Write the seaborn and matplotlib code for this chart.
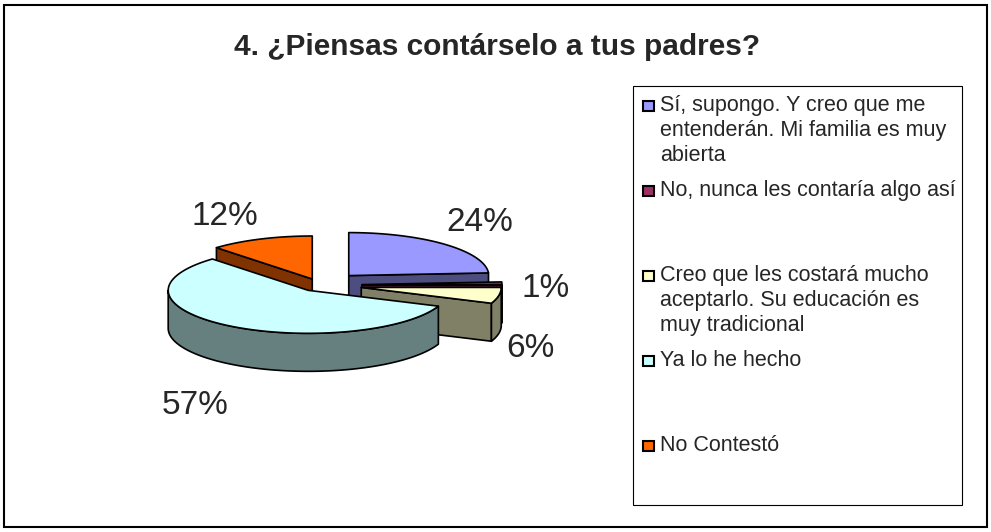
import numpy as np
import matplotlib
matplotlib.use("Agg")
import matplotlib.pyplot as plt
from matplotlib.patches import Polygon, Rectangle
import seaborn as sns

# datos
categorias = [
    "Sí, supongo. Y creo que me\nentenderán. Mi familia es muy\nabierta",
    "No, nunca les contaría algo así",
    "Creo que les costará mucho\naceptarlo. Su educación es\nmuy tradicional",
    "Ya lo he hecho",
    "No Contestó",
]
porcentajes = [24, 1, 6, 57, 12]
colores_sup = ["#9999FF", "#993366", "#FFFFCC", "#CCFFFF", "#FF6600"]
colores_lado = ["#4D4D80", "#4D1A33", "#808066", "#668080", "#803300"]
separacion = [0.3, 0.3, 0.3, 0.15, 0.15]
titulo = "4. ¿Piensas contárselo a tus padres?"

sns.set_theme(style="white")
plt.rcParams['font.family'] = ['Liberation Sans', 'DejaVu Sans']

# geometria del pastel (pixeles)
CX, CY = 320, 285
RX, RY = 140, 43
PROF = 38
LRX, LRY = 225, 108
# pequeño desplazamiento de cada etiqueta para que no se pisen
ajuste_etiqueta = [(6, -3), (1, -12), (-11, 24), (2, 12), (-12, 13)]


def punto(x0, y0, ang, esc=1.0):
    t = np.radians(ang)
    return x0 + esc * RX * np.cos(t), y0 - esc * RY * np.sin(t)


def arco(x0, y0, a, b, n=80):
    t = np.radians(np.linspace(a, b, n))
    return x0 + RX * np.cos(t), y0 - RY * np.sin(t)


fig = plt.figure(figsize=(9.91, 5.32), dpi=100)
ax = fig.add_axes([0, 0, 1, 1])
ax.set_xlim(0, 991)
ax.set_ylim(532, 0)
ax.axis('off')

# marco del grafico
ax.add_patch(Rectangle((4, 5), 983, 522, fill=False, ec='black', lw=1.5))
ax.text(497, 47, titulo, ha='center', va='center', fontsize=21.5, fontweight='bold')

# rebanadas (sentido horario desde las 12)
rebanadas = []
ini = 90.0
for v, e in zip(porcentajes, separacion):
    b = ini
    a = ini - v * 3.6
    ini = a
    m = (a + b) / 2
    tx, ty = punto(CX, CY, m, e)
    rebanadas.append(dict(a=a, b=b, m=m, x=tx, y=ty))

lados = []
for i, r in enumerate(rebanadas):
    caras = [(r['a'], np.cos(np.radians(r['a'])) > 1e-6),
             (r['b'], np.cos(np.radians(r['b'])) < -1e-6)]
    for ang, visible in caras:
        if visible:
            px, py = punto(r['x'], r['y'], ang)
            pts = [(r['x'], r['y']), (px, py), (px, py + PROF), (r['x'], r['y'] + PROF)]
            lados.append((np.mean([p[1] for p in pts]), pts, colores_lado[i]))
    for k in (-1, 0, 1):
        lo = max(r['a'], -180 + 360 * k)
        hi = min(r['b'], 360 * k)
        if hi > lo:
            xs, ys = arco(r['x'], r['y'], lo, hi)
            pts = list(zip(xs, ys)) + list(zip(xs[::-1], ys[::-1] + PROF))
            lados.append((np.mean(ys) + PROF, pts, colores_lado[i]))

for _, pts, col in sorted(lados, key=lambda t: t[0]):
    ax.add_patch(Polygon(pts, closed=True, fc=col, ec='black', lw=1.2, joinstyle='round'))

for i, r in enumerate(rebanadas):
    xs, ys = arco(r['x'], r['y'], r['a'], r['b'])
    pts = [(r['x'], r['y'])] + list(zip(xs, ys))
    ax.add_patch(Polygon(pts, closed=True, fc=colores_sup[i], ec='black', lw=1.2, joinstyle='round'))

# etiquetas de porcentaje
for v, r, (dx, dy) in zip(porcentajes, rebanadas, ajuste_etiqueta):
    t = np.radians(r['m'])
    lx = CX + LRX * np.cos(t) + dx
    ly = CY + PROF / 2 - LRY * np.sin(t) + dy
    ax.text(lx, ly, f"{v}%", ha='center', va='center', fontsize=24)

# leyenda
ax.add_patch(Rectangle((633, 86), 329, 419, fill=False, ec='black', lw=0.8))
for i, (lab, col) in enumerate(zip(categorias, colores_sup)):
    base = 111 + i * 85
    ax.add_patch(Rectangle((643, base - 10), 11, 10, fc=col, ec='black', lw=1.5))
    for j, linea in enumerate(lab.split("\n")):
        ax.text(660, base + j * 25, linea, ha='left', va='baseline', fontsize=15.5)

fig.savefig("out.png", dpi=100, facecolor='white')
